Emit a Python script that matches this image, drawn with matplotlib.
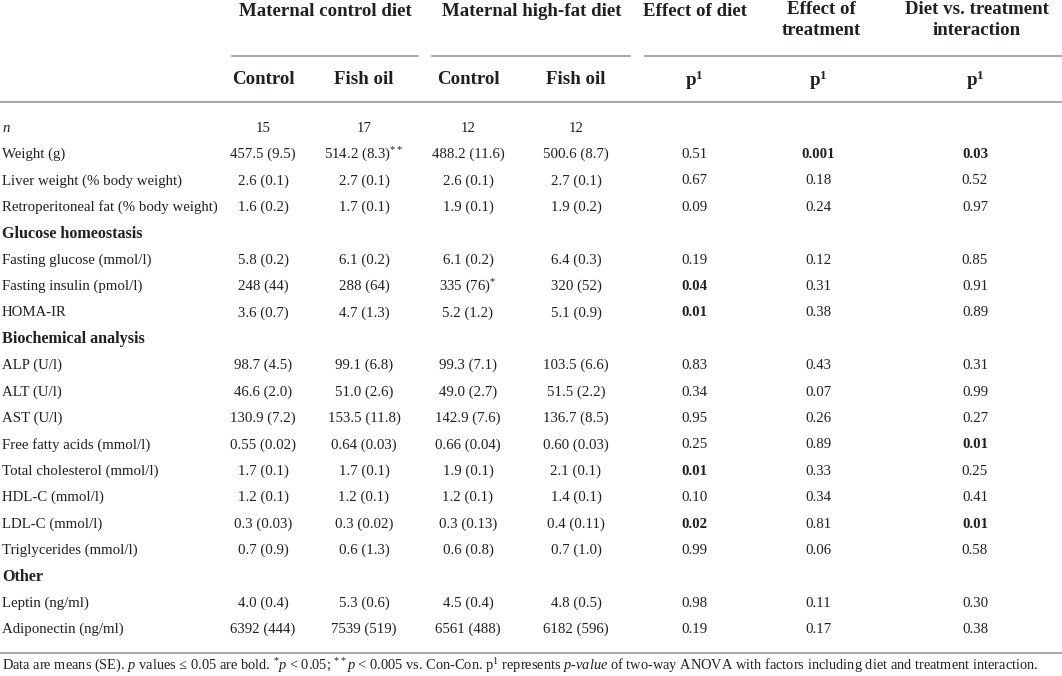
import matplotlib
matplotlib.use("Agg")
import matplotlib.pyplot as plt

plt.rcParams.update({
    "font.family": ["Liberation Serif", "DejaVu Serif"],
    "mathtext.fontset": "custom",
    "mathtext.rm": "Liberation Serif",
    "mathtext.it": "Liberation Serif:italic",
    "mathtext.bf": "Liberation Serif:bold",
})

# ---------------------------------------------------------------------------
# Table content
# ---------------------------------------------------------------------------
group_headers = ["Maternal control diet", "Maternal high-fat diet",
                 "Effect of diet", "Effect of\ntreatment",
                 "Diet vs. treatment\ninteraction"]
sub_headers = ["Control", "Fish oil", "Control", "Fish oil",
               r"p$^{\mathbf{1}}$", r"p$^{\mathbf{1}}$", r"p$^{\mathbf{1}}$"]

row_labels = ["n", "Weight (g)", "Liver weight (% body weight)",
              "Retroperitoneal fat (% body weight)",
              "Glucose homeostasis",
              "Fasting glucose (mmol/l)", "Fasting insulin (pmol/l)", "HOMA-IR",
              "Biochemical analysis",
              "ALP (U/l)", "ALT (U/l)", "AST (U/l)", "Free fatty acids (mmol/l)",
              "Total cholesterol (mmol/l)", "HDL-C (mmol/l)", "LDL-C (mmol/l)",
              "Triglycerides (mmol/l)",
              "Other",
              "Leptin (ng/ml)", "Adiponectin (ng/ml)"]
section_rows = ["Glucose homeostasis", "Biochemical analysis", "Other"]

con_control = ["15", "457.5 (9.5)", "2.6 (0.1)", "1.6 (0.2)", "",
               "5.8 (0.2)", "248 (44)", "3.6 (0.7)", "",
               "98.7 (4.5)", "46.6 (2.0)", "130.9 (7.2)", "0.55 (0.02)",
               "1.7 (0.1)", "1.2 (0.1)", "0.3 (0.03)", "0.7 (0.9)", "",
               "4.0 (0.4)", "6392 (444)"]
con_fish = ["17", "514.2 (8.3)**", "2.7 (0.1)", "1.7 (0.1)", "",
            "6.1 (0.2)", "288 (64)", "4.7 (1.3)", "",
            "99.1 (6.8)", "51.0 (2.6)", "153.5 (11.8)", "0.64 (0.03)",
            "1.7 (0.1)", "1.2 (0.1)", "0.3 (0.02)", "0.6 (1.3)", "",
            "5.3 (0.6)", "7539 (519)"]
hf_control = ["12", "488.2 (11.6)", "2.6 (0.1)", "1.9 (0.1)", "",
              "6.1 (0.2)", "335 (76)*", "5.2 (1.2)", "",
              "99.3 (7.1)", "49.0 (2.7)", "142.9 (7.6)", "0.66 (0.04)",
              "1.9 (0.1)", "1.2 (0.1)", "0.3 (0.13)", "0.6 (0.8)", "",
              "4.5 (0.4)", "6561 (488)"]
hf_fish = ["12", "500.6 (8.7)", "2.7 (0.1)", "1.9 (0.2)", "",
           "6.4 (0.3)", "320 (52)", "5.1 (0.9)", "",
           "103.5 (6.6)", "51.5 (2.2)", "136.7 (8.5)", "0.60 (0.03)",
           "2.1 (0.1)", "1.4 (0.1)", "0.4 (0.11)", "0.7 (1.0)", "",
           "4.8 (0.5)", "6182 (596)"]
p_diet = ["", "0.51", "0.67", "0.09", "",
          "0.19", "0.04", "0.01", "",
          "0.83", "0.34", "0.95", "0.25", "0.01", "0.10", "0.02", "0.99", "",
          "0.98", "0.19"]
p_treat = ["", "0.001", "0.18", "0.24", "",
           "0.12", "0.31", "0.38", "",
           "0.43", "0.07", "0.26", "0.89", "0.33", "0.34", "0.81", "0.06", "",
           "0.11", "0.17"]
p_inter = ["", "0.03", "0.52", "0.97", "",
           "0.85", "0.91", "0.89", "",
           "0.31", "0.99", "0.27", "0.01", "0.25", "0.41", "0.01", "0.58", "",
           "0.30", "0.38"]

footnote = (r"Data are means (SE). $\mathit{p}$ values ≤ 0.05 are bold. "
            r"$^{*}\mathit{p}$ < 0.05; $^{**}\mathit{p}$ < 0.005 vs. Con-Con. "
            r"p$^{1}$ represents $\mathit{p}$-$\mathit{value}$ of two-way ANOVA "
            r"with factors including diet and treatment interaction.")

# ---------------------------------------------------------------------------
# Layout (pixel coordinates)
# ---------------------------------------------------------------------------
TXT = "#231f20"
LINE = "#8f8f8f"
col_x = [263, 364, 468, 576, 694, 818, 975]
group_x = [325, 532, 695, 821, 977]
row_y0, row_dy = 128, 26.4
FS = 10.7
FS_HEAD = 13.6


def cell(s):
    # trailing asterisks are drawn as superscripts
    stripped = s.rstrip("*")
    n = len(s) - len(stripped)
    return stripped + (r"$^{" + "*" * n + "}$" if n else "")


fig = plt.figure(figsize=(10.62, 6.76), dpi=100)
ax = fig.add_axes([0, 0, 1, 1])
ax.set_xlim(0, 1062)
ax.set_ylim(676, 0)
ax.axis("off")

# header
for x, h in zip(group_x, group_headers):
    y = 20 if "\n" in h else 11
    ax.text(x, y, h, ha="center", va="center", fontsize=FS_HEAD,
            fontweight="bold", color=TXT, linespacing=1.25)
for x0, x1 in [(232, 418), (432, 630), (645, 1062)]:
    ax.plot([x0, x1], [55.5, 55.5], color=LINE, lw=1.1)
for x, h in zip(col_x, sub_headers):
    ax.text(x, 80, h, ha="center", va="center", fontsize=FS_HEAD,
            fontweight="bold", color=TXT)
ax.plot([0, 1062], [102, 102], color=LINE, lw=1.1)

# body
for i, label in enumerate(row_labels):
    y = row_y0 + i * row_dy
    if label in section_rows:
        ax.text(2, y, label, ha="left", va="center", fontsize=11.6,
                fontweight="bold", color=TXT)
        continue
    ax.text(2, y, label, ha="left", va="center", fontsize=FS, color=TXT,
            style="italic" if label == "n" else "normal")
    for x, col in zip(col_x[:4], [con_control, con_fish, hf_control, hf_fish]):
        ax.text(x, y, cell(col[i]), ha="center", va="center", fontsize=FS,
                color=TXT)
    for x, col in zip(col_x[4:], [p_diet, p_treat, p_inter]):
        if col[i]:
            bold = float(col[i]) <= 0.05
            ax.text(x, y, col[i], ha="center", va="center", fontsize=FS,
                    color=TXT, fontweight="bold" if bold else "normal")

ax.plot([0, 1062], [653, 653], color=LINE, lw=1.1)
ax.text(2, 666, footnote, ha="left", va="center", fontsize=10.4, color=TXT)

fig.savefig("out.png", dpi=100, facecolor="white")
